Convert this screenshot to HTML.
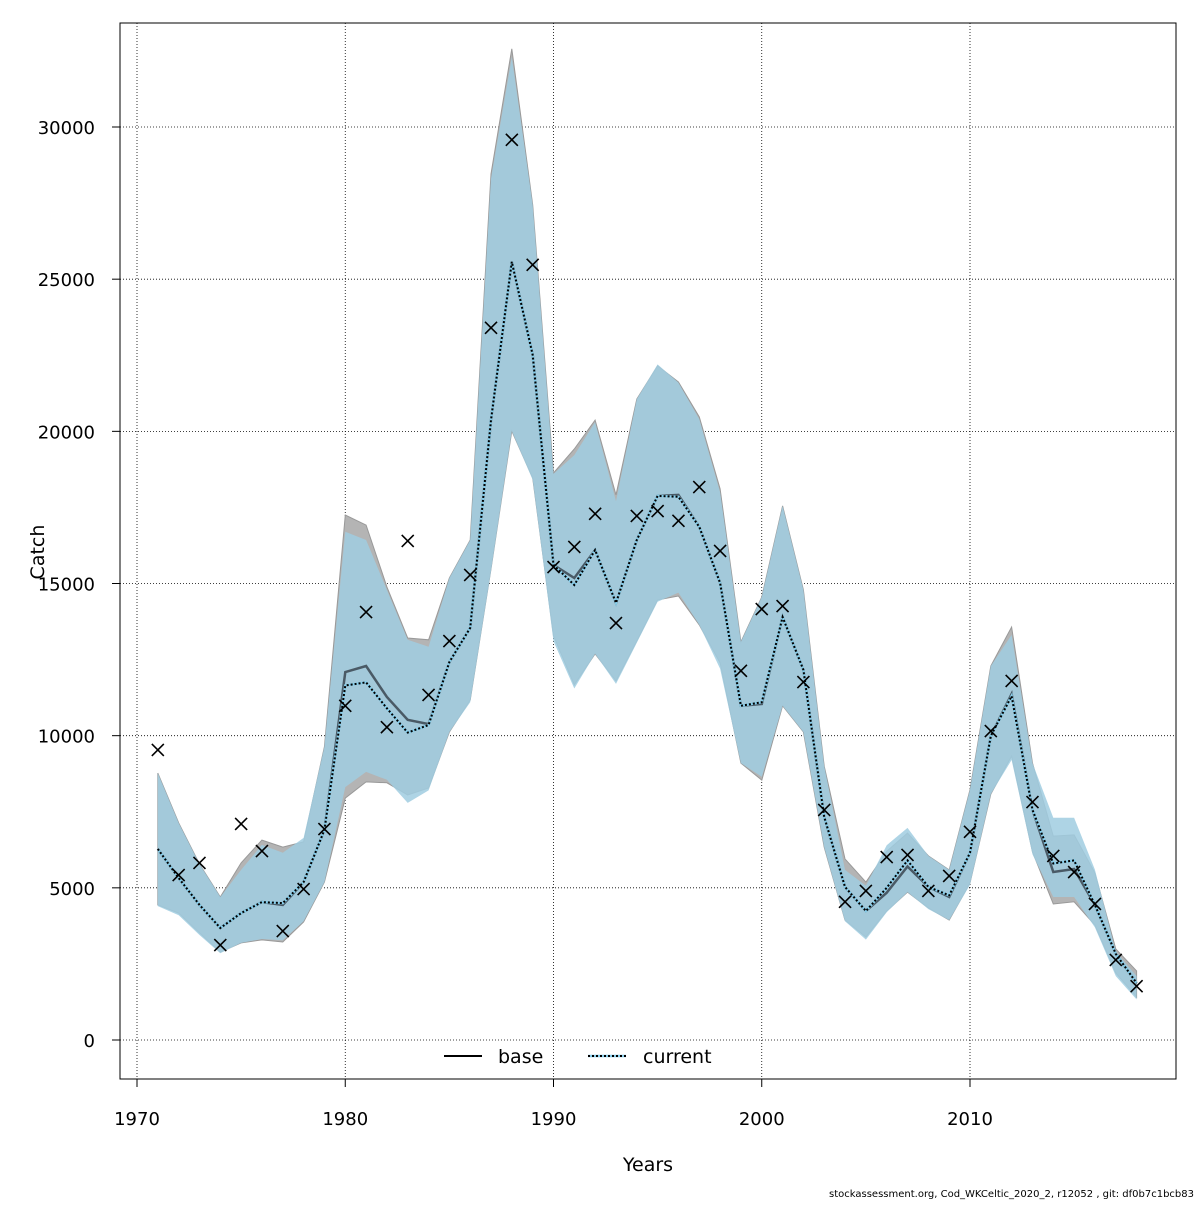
<!DOCTYPE html>
<html><head><meta charset="utf-8"><style>
body{margin:0;background:#fff;}
svg text{font-family:"DejaVu Sans","Liberation Sans",sans-serif;}
</style></head><body>
<svg id="chart" width="1200" height="1200" xmlns="http://www.w3.org/2000/svg">
<rect x="0" y="0" width="1200" height="1200" fill="#fff"/>
<g id="grid"></g>
<g id="bands"></g>
<g id="lines"></g>
<g id="points"></g>
<g id="axes"></g>
<rect x="120" y="23" width="1056" height="1056" fill="none" stroke="#000" stroke-width="1"/>
<text x="648" y="1171" font-size="19" text-anchor="middle">Years</text>
<text x="44" y="552" font-size="19" text-anchor="middle" transform="rotate(-90 44 552)">Catch</text>
<g>
<line x1="444" y1="1056" x2="482" y2="1056" stroke="#000" stroke-width="2"/>
<text x="498" y="1063" font-size="19">base</text>
<line x1="588" y1="1056" x2="626" y2="1056" stroke="#87ceeb" stroke-width="2.5"/>
<line x1="588" y1="1056" x2="626" y2="1056" stroke="#000" stroke-width="2" stroke-dasharray="2,2"/>
<text x="643" y="1063" font-size="19">current</text>
</g>
<text x="1194" y="1197" font-size="10" text-anchor="end">stockassessment.org, Cod_WKCeltic_2020_2, r12052 , git: df0b7c1bcb83</text>
</svg>
<script>
const years = [1971,1972,1973,1974,1975,1976,1977,1978,1979,1980,1981,1982,1983,1984,1985,1986,1987,1988,1989,1990,1991,1992,1993,1994,1995,1996,1997,1998,1999,2000,2001,2002,2003,2004,2005,2006,2007,2008,2009,2010,2011,2012,2013,2014,2015,2016,2017,2018];
const observed = [9530,5420,5820,3120,7100,6210,3580,4960,6930,10980,14060,10280,16400,11340,13110,15280,23400,29580,25470,15540,16200,17290,13700,17220,17380,17060,18170,16070,12130,14160,14260,11760,7560,4540,4900,6010,6080,4900,5390,6840,10150,11800,7820,6050,5520,4470,2630,1770];
const baseEst = [6280,5320,4440,3680,4170,4530,4440,5190,6900,12090,12290,11270,10520,10380,12420,13540,20370,25570,22510,15610,15180,16100,14360,16430,17880,17910,16860,15020,10980,11040,13900,12160,7330,5030,4240,4840,5700,5030,4700,6150,9990,11370,7560,5520,5620,4440,2830,1870];
const curEst = [6280,5320,4440,3680,4170,4530,4500,5190,6900,11650,11750,10900,10100,10350,12420,13540,20370,25570,22510,15610,14950,16100,14360,16430,17880,17850,16860,15020,10980,11100,13900,12160,7330,5030,4240,5000,5900,5030,4750,6150,9990,11300,7560,5800,5900,4440,2830,1870];
const baseHi = [8770,7130,5780,4700,5820,6570,6340,6510,9630,17250,16920,14890,13210,13150,15180,16430,28460,32570,27440,18630,19420,20370,17910,21060,22150,21620,20470,18110,13080,14560,17550,14790,9000,5950,5190,6200,6800,6050,5590,8220,12290,13570,9100,6700,6740,5490,2990,2270];
const baseLo = [4440,4170,3520,2890,3190,3290,3220,3880,5190,7950,8480,8450,8050,8280,10120,11170,15480,20010,18470,13280,11670,12690,11800,13110,14460,14590,13640,12390,9100,8540,10980,10120,6340,3940,3380,4240,4860,4340,3940,5160,8080,9330,6180,4470,4540,3780,2200,1410];
const curHi = [8770,7130,5780,4700,5590,6410,6150,6640,9630,16700,16430,14790,13150,12920,15180,16430,28300,32300,27440,18600,19220,20300,17700,21060,22200,21600,20400,18000,13080,14560,17550,14790,9000,5590,5070,6400,6970,6050,5590,8220,12290,13310,9100,7300,7300,5600,2900,2100];
const curLo = [4400,4100,3450,2850,3190,3320,3280,3900,5190,8310,8810,8550,7790,8200,10120,11100,15400,20010,18400,13100,11550,12690,11700,13050,14400,14700,13640,12200,9100,8650,10980,10120,6340,3900,3300,4200,4860,4300,3940,5100,8080,9200,6100,4700,4700,3700,2100,1330];
const xTicks = [1970,1980,1990,2000,2010];
const yTicks = [0,5000,10000,15000,20000,25000,30000];

const NS='http://www.w3.org/2000/svg';
function X(yr){return 137 + (yr-1970)*20.825;}
function Y(v){return 1040 - v*0.030433;}
function mk(tag,attrs,parent){const e=document.createElementNS(NS,tag);for(const k in attrs)e.setAttribute(k,attrs[k]);parent.appendChild(e);return e;}
const grid=document.getElementById('grid'),bands=document.getElementById('bands'),lines=document.getElementById('lines'),pts=document.getElementById('points'),axes=document.getElementById('axes');

xTicks.forEach(t=>{
  const g=mk('line',{x1:X(t),x2:X(t),y1:23,y2:1079,stroke:'#000','stroke-width':0.8,'stroke-dasharray':'1,2'},grid);
  
  
  const tk=mk('line',{x1:X(t),x2:X(t),y1:1079,y2:1087,stroke:'#000'},axes);
  
  
  const tx=mk('text',{x:X(t),y:1125,'font-size':18,'text-anchor':'middle'},axes);
  tx.textContent=t;
  
  
});
yTicks.forEach(t=>{
  const g=mk('line',{x1:120,x2:1176,y1:Y(t),y2:Y(t),stroke:'#000','stroke-width':0.8,'stroke-dasharray':'1,2'},grid);
  
  
  const tk=mk('line',{x1:112,x2:120,y1:Y(t),y2:Y(t),stroke:'#000'},axes);
  
  
  const tx=mk('text',{x:95,y:Y(t)+7,'font-size':18,'text-anchor':'end'},axes);
  tx.textContent=t;
  
  
});
function bandPath(hi,lo){
  let d='';
  years.forEach((yr,i)=>{d+=(i?'L':'M')+X(yr).toFixed(1)+','+Y(hi[i]).toFixed(1);});
  for(let i=years.length-1;i>=0;i--)d+='L'+X(years[i]).toFixed(1)+','+Y(lo[i]).toFixed(1);
  return d+'Z';
}
function linePath(v){return years.map((yr,i)=>(i?'L':'M')+X(yr).toFixed(1)+','+Y(v[i]).toFixed(1)).join('');}
const b1=mk('path',{d:bandPath(baseHi,baseLo),fill:'#b4b4b4',stroke:'#999','stroke-width':1},bands);


const b2=mk('path',{d:bandPath(curHi,curLo),fill:'rgb(160,205,225)','fill-opacity':0.85},bands);


const l1=mk('path',{d:linePath(baseEst),fill:'none',stroke:'#4a5a66','stroke-width':2.5},lines);


const l2=mk('path',{d:linePath(curEst),fill:'none',stroke:'#87ceeb','stroke-width':2.5},lines);


const l3=mk('path',{d:linePath(curEst),fill:'none',stroke:'#000','stroke-width':2,'stroke-dasharray':'2,2'},lines);


years.forEach((yr,i)=>{
  const x=X(yr),y=Y(observed[i]),s=6;
  const p=mk('path',{d:`M${x-s},${y-s}L${x+s},${y+s}M${x-s},${y+s}L${x+s},${y-s}`,stroke:'#000','stroke-width':1.6,fill:'none'},pts);
  
  
});
</script>
</body></html>
